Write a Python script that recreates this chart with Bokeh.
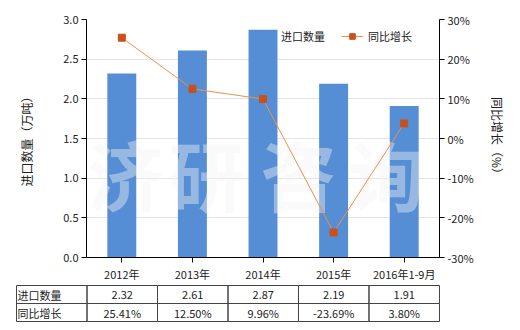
from bokeh.plotting import figure
from bokeh.models import (FactorRange, Range1d, LinearAxis, Legend, LegendItem,
                          FixedTicker, PrintfTickFormatter, Label, ColumnDataSource)
from bokeh.layouts import column
from bokeh.embed import file_html
from bokeh.resources import INLINE
from bokeh.core.properties import value

# ---- data ----
categories = ["2012年", "2013年", "2014年", "2015年", "2016年1-9月"]
import_qty = [2.32, 2.61, 2.87, 2.19, 1.91]
yoy_growth = [25.41, 12.50, 9.96, -23.69, 3.80]
qty_labels = ["2.32", "2.61", "2.87", "2.19", "1.91"]
growth_labels = ["25.41%", "12.50%", "9.96%", "-23.69%", "3.80%"]
row_names = ["进口数量", "同比增长"]
left_ticks = [0.0, 0.5, 1.0, 1.5, 2.0, 2.5, 3.0]
right_ticks = [-30, -20, -10, 0, 10, 20, 30]

FONT = "Noto Sans CJK SC"
BAR = "#558ED5"
LINE = "#F09048"
MARK = "#C9501C"
TXT = "#222222"

# ---- main chart ----
p = figure(width=520, height=284, x_range=FactorRange(*categories, range_padding=0),
           y_range=Range1d(0, 3), output_backend="svg", toolbar_location=None,
           min_border_left=86, min_border_right=81, min_border_top=19, min_border_bottom=25)
p.frame_align = False
p.extra_y_ranges = {"pct": Range1d(-30, 30)}
p.outline_line_color = None
p.background_fill_color = "white"
p.border_fill_color = "white"

src = ColumnDataSource(dict(cat=categories, qty=import_qty, g=yoy_growth))
bars = p.vbar(x="cat", top="qty", width=0.41, source=src, color=BAR, line_color=None)
ln = p.line(x="cat", y="g", source=src, y_range_name="pct", line_color=LINE, line_width=1,
            level="annotation")
mk = p.scatter(x="cat", y="g", source=src, y_range_name="pct", marker="square", size=7,
               fill_color=MARK, line_color=MARK, level="annotation")

# axes
p.xgrid.visible = False
p.ygrid.grid_line_color = "#e4e4e4"
p.ygrid.ticker = FixedTicker(ticks=left_ticks)

ya = p.yaxis[0]
ya.ticker = FixedTicker(ticks=left_ticks)
ya.formatter = PrintfTickFormatter(format="%.1f")
ya.axis_label = "进口数量（万吨）"

ra = LinearAxis(y_range_name="pct", ticker=FixedTicker(ticks=right_ticks),
                formatter=PrintfTickFormatter(format="%d%%"), axis_label="同比增长（%）")
p.add_layout(ra, "right")

for ax in [ya, ra, p.xaxis[0]]:
    ax.axis_line_color = "black"
    ax.major_tick_line_color = "black"
    ax.minor_tick_line_color = None
    ax.major_tick_in = 0
    ax.major_tick_out = 5
    ax.major_label_text_font = FONT
    ax.major_label_text_font_size = "11px"
    ax.major_label_text_color = TXT
    ax.major_label_standoff = 3
    ax.axis_label_text_font = FONT
    ax.axis_label_text_font_size = "12px"
    ax.axis_label_text_font_style = "normal"
    ax.axis_label_text_color = TXT
ya.axis_label_standoff = 25
ra.axis_label_standoff = 12

# watermark (screen units relative to the plot frame)
for ch, sx in zip("济研咨询", [125, 206, 298, 386]):
    p.add_layout(Label(x=sx - 86, y=259 - 174, x_units="screen", y_units="screen", text=ch,
                       text_font=FONT, text_font_size="76px", text_font_style="bold",
                       text_color="#f2f2f2", text_alpha=0.42, text_align="center",
                       text_baseline="middle", level="guide"))

legend = Legend(items=[LegendItem(label="进口数量", renderers=[bars]),
                       LegendItem(label="同比增长", renderers=[ln, mk])],
                orientation="horizontal", location=(168, 211),
                glyph_width=22, glyph_height=14, label_standoff=5, spacing=16,
                padding=0, margin=0, border_line_color=None, background_fill_alpha=0,
                label_text_font=FONT, label_text_font_size="11px", label_text_color=TXT,
                label_height=20)
p.add_layout(legend)

# ---- data table below ----
t = figure(width=520, height=46, x_range=Range1d(-1.0142, 5.0142),
           y_range=Range1d(-1 / 18, 2 + 1 / 18), output_backend="svg", toolbar_location=None,
           min_border_left=15, min_border_right=80, min_border_top=0, min_border_bottom=8,
           x_axis_location=None, y_axis_location=None)
t.frame_align = False
t.outline_line_color = None
t.grid.visible = False
t.background_fill_color = "white"
t.border_fill_color = "white"

n = len(categories)
cells = dict(left=[], right=[], top=[], bottom=[])
for r in range(2):
    for c in range(-1, n):
        cells["left"].append(c)
        cells["right"].append(c + 1)
        cells["top"].append(2 - r)
        cells["bottom"].append(1 - r)
t.quad(source=ColumnDataSource(cells), fill_color=None, line_color="#444444", line_width=1)

xs = [i + 0.5 for i in range(n)]
t.text(x=xs, y=[1.5] * n, text=qty_labels, text_align="center", text_baseline="middle",
       text_font=value(FONT), text_font_size="11px", text_color=TXT)
t.text(x=xs, y=[0.5] * n, text=growth_labels, text_align="center", text_baseline="middle",
       text_font=value(FONT), text_font_size="11px", text_color=TXT)
t.text(x=[-0.985, -0.985], y=[1.5, 0.5], text=row_names, text_align="left",
       text_baseline="middle", text_font=value(FONT), text_font_size="11px", text_color=TXT)

layout = column(p, t, spacing=0)
open("out.html", "w").write(file_html(layout, INLINE))
